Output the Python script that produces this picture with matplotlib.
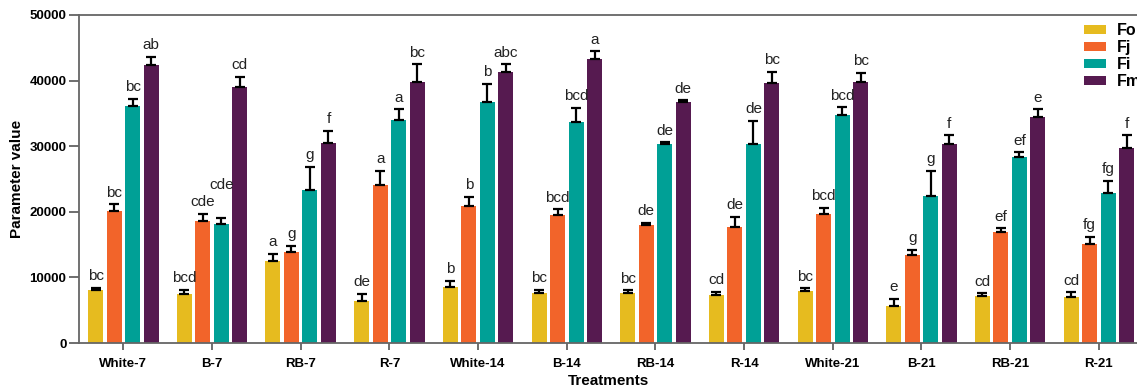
import matplotlib
matplotlib.use("Agg")
import matplotlib.pyplot as plt
import numpy as np

plt.rcParams['font.family'] = ['Liberation Sans', 'DejaVu Sans']

treatments = ["White-7", "B-7", "RB-7", "R-7", "White-14", "B-14", "RB-14", "R-14",
              "White-21", "B-21", "RB-21", "R-21"]
series_names = ["Fo", "Fj", "Fi", "Fm"]

fo = [8100, 7420, 12540, 6400, 8490, 7670, 7670, 7270, 7980, 5640, 7160, 7060]
fj = [20160, 18540, 13820, 24080, 20880, 19460, 17940, 17680, 19710, 13370, 16920, 15090]
fi = [36120, 18090, 23320, 33940, 36730, 33730, 30330, 30330, 34700, 22350, 28390, 22810]
fm = [42320, 38970, 30530, 39820, 41350, 43240, 36680, 39670, 39820, 30330, 34490, 29670]

fo_err = [300, 650, 1100, 1070, 950, 400, 350, 550, 350, 1100, 400, 660]
fj_err = [1000, 1200, 1000, 2200, 1400, 900, 400, 1580, 900, 800, 560, 1120]
fi_err = [1150, 900, 3550, 1700, 2740, 2130, 250, 3550, 1200, 3860, 660, 1920]
fm_err = [1300, 1600, 1800, 2650, 1150, 1200, 300, 1680, 1400, 1350, 1120, 2000]

fo_lbl = ["bc", "bcd", "a", "de", "b", "bc", "bc", "cd", "bc", "e", "cd", "cd"]
fj_lbl = ["bc", "cde", "g", "a", "b", "bcd", "de", "de", "bcd", "g", "ef", "fg"]
fi_lbl = ["bc", "cde", "g", "a", "b", "bcd", "de", "de", "bcd", "g", "ef", "fg"]
fm_lbl = ["ab", "cd", "f", "bc", "abc", "a", "de", "bc", "bc", "f", "e", "f"]

colors = ["#E6BB1F", "#F2642A", "#00A096", "#561A50"]

values = [fo, fj, fi, fm]
errors = [fo_err, fj_err, fi_err, fm_err]
labels = [fo_lbl, fj_lbl, fi_lbl, fm_lbl]

fig = plt.figure(figsize=(11.37, 3.91), dpi=100)
ax = fig.add_axes([79/1137, 48/391, 1 - 79/1137, (343-15)/391])

x = np.arange(len(treatments))
step = 0.2086
width = 0.169
for i in range(4):
    pos = x + (i - 1.5) * step
    ax.bar(pos, values[i], width, color=colors[i], label=series_names[i], zorder=2)
    ax.errorbar(pos, values[i], yerr=[np.zeros(len(pos)), errors[i]], fmt='none',
                ecolor='black', elinewidth=1.6, capsize=3.5, capthick=1.6, zorder=3)
    for j, (p, v, e, t) in enumerate(zip(pos, values[i], errors[i], labels[i])):
        extra = 0
        # lift the Fi label of B-7 so it does not collide with the Fj label
        if i == 2 and j == 1:
            extra = 3300
        ax.text(p, v + e + 700 + extra, t, ha='center', va='bottom', fontsize=11,
                color='#222222')

ax.set_xlim(-0.5, 11.43)
ax.set_ylim(0, 50000)
ax.set_yticks([0, 10000, 20000, 30000, 40000, 50000])
ax.set_xticks(x)
ax.set_xticklabels(treatments, fontweight='bold', fontsize=9.5)
for lab in ax.get_yticklabels():
    lab.set_fontweight('bold')
    lab.set_fontsize(9.5)
ax.tick_params(axis='y', length=7, width=1.2, color='#555555', pad=2)
ax.tick_params(axis='x', length=5, width=1.2, color='#555555', pad=6)

for s in ['left', 'bottom', 'top']:
    ax.spines[s].set_color('#666666')
    ax.spines[s].set_linewidth(1.3)
ax.spines['right'].set_visible(False)

ax.set_ylabel("Parameter value", fontweight='bold', fontsize=11, labelpad=4)
ax.set_xlabel("Treatments", fontweight='bold', fontsize=11, labelpad=3)

leg = ax.legend(loc='upper left', bbox_to_anchor=(0.9435, 0.995), frameon=False,
                prop={'weight': 'bold', 'size': 11.5}, handlelength=1.4, handleheight=0.5,
                handletextpad=0.7, labelspacing=0.12, borderaxespad=0)

fig.savefig("out.png", dpi=100)
